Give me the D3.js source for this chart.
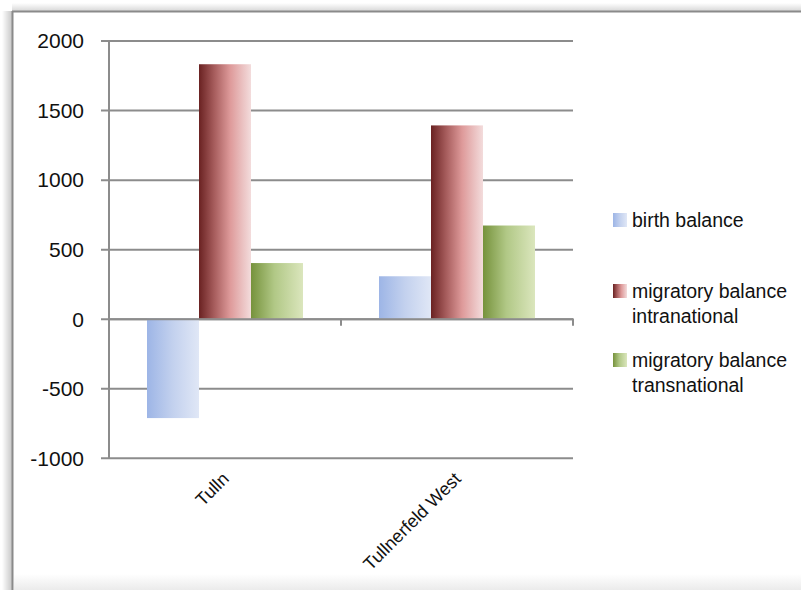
<!DOCTYPE html>
<html>
<head>
<meta charset="utf-8">
<script src="https://cdn.jsdelivr.net/npm/d3@7/dist/d3.min.js"></script>
<style>
  html, body { margin: 0; padding: 0; background: #fff; }
  svg { display: block; font-family: "Liberation Sans", Arial, sans-serif; }
</style>
</head>
<body>
<svg id="chart" width="801" height="590"></svg>
<script>
// Population balance by municipality
const categories = ["Tulln", "Tullnerfeld West"];
const seriesNames = ["birth balance", "migratory balance intranational", "migratory balance transnational"];
const legendLines = [["birth balance"], ["migratory balance", "intranational"], ["migratory balance", "transnational"]];
const birthBalance = [-715, 305];
const migratoryIntranational = [1830, 1390];
const migratoryTransnational = [400, 670];
const yTicks = [-1000, -500, 0, 500, 1000, 1500, 2000];

const seriesValues = [birthBalance, migratoryIntranational, migratoryTransnational];
const data = categories.map((c, i) => ({
  category: c,
  values: seriesNames.map((s, k) => ({ series: s, k, value: seriesValues[k][i] }))
}));

// gradient stops per series: [offset, color]
const gradStops = [
  [[0, "#9db5e6"], [0.5, "#c3d1ee"], [1, "#e0e7f6"]],
  [[0, "#6a2222"], [0.3, "#a85e5e"], [0.6, "#de9a9a"], [1, "#f3dcdc"]],
  [[0, "#76923c"], [0.45, "#b1c886"], [1, "#dbe6bd"]]
];

const svg = d3.select("#chart");
const defs = svg.append("defs");

gradStops.forEach((stops, k) => {
  const g = defs.append("linearGradient").attr("id", "grad" + k)
    .attr("x1", "0%").attr("x2", "100%").attr("y1", "0%").attr("y2", "0%");
  stops.forEach(([o, c]) => g.append("stop").attr("offset", o).attr("stop-color", c));
});

// frame shadow and bottom bevel
const sh = defs.append("linearGradient").attr("id", "leftShadow")
  .attr("x1", "0%").attr("x2", "100%");
sh.append("stop").attr("offset", 0).attr("stop-color", "#fff");
sh.append("stop").attr("offset", 1).attr("stop-color", "#c8c8c8");
const sht = defs.append("linearGradient").attr("id", "topShadow")
  .attr("x1", "0%").attr("x2", "0%").attr("y1", "0%").attr("y2", "100%");
sht.append("stop").attr("offset", 0).attr("stop-color", "#fff");
sht.append("stop").attr("offset", 1).attr("stop-color", "#d8d8d8");
const bb = defs.append("linearGradient").attr("id", "bottomBevel")
  .attr("x1", "0%").attr("x2", "0%").attr("y1", "0%").attr("y2", "100%");
bb.append("stop").attr("offset", 0).attr("stop-color", "#ffffff");
bb.append("stop").attr("offset", 1).attr("stop-color", "#ebebeb");

svg.append("rect").attr("x", 2).attr("y", 11).attr("width", 10).attr("height", 579).attr("fill", "url(#leftShadow)");
svg.append("rect").attr("x", 12).attr("y", 3).attr("width", 789).attr("height", 8).attr("fill", "url(#topShadow)");
svg.append("rect").attr("x", 13).attr("y", 12).attr("width", 788).attr("height", 578).attr("fill", "#fff");
svg.append("rect").attr("x", 14).attr("y", 574).attr("width", 787).attr("height", 16).attr("fill", "url(#bottomBevel)");
svg.append("line").attr("x1", 12.5).attr("x2", 12.5).attr("y1", 11).attr("y2", 590)
  .attr("stroke", "#8a8a8a").attr("stroke-width", 2);
svg.append("line").attr("x1", 12).attr("x2", 801).attr("y1", 11.5).attr("y2", 11.5)
  .attr("stroke", "#8a8a8a").attr("stroke-width", 2);

// scales
const plotLeft = 109, plotRight = 573;
const y = d3.scaleLinear().domain([-1000, 2000]).range([457.7, 40.6]);
const x0 = d3.scaleBand().domain(categories).range([plotLeft, plotRight]).padding(0);
const x1 = d3.scaleBand().domain(seriesNames).range([38, x0.bandwidth() - 38]).padding(0);

const gridColor = "#8c8c8c";

// horizontal gridlines with left ticks
const yAxis = d3.axisLeft(y).tickValues(yTicks).tickSize(-(plotRight - plotLeft)).tickFormat(d => String(d));
const gy = svg.append("g").attr("transform", `translate(${plotLeft},0)`).call(yAxis);
gy.select(".domain").remove();
gy.selectAll(".tick line").attr("stroke", gridColor).attr("stroke-width", 2).attr("x1", -8);
gy.selectAll(".tick text")
  .attr("fill", "#111").style("font-size", "21px").style("font-family", "'Liberation Sans', Arial, sans-serif")
  .attr("x", -25).attr("dy", "0.35em");

// vertical value axis line
svg.append("line").attr("x1", plotLeft).attr("x2", plotLeft).attr("y1", y(2000)).attr("y2", y(-1000) + 1)
  .attr("stroke", gridColor).attr("stroke-width", 2);

// bars
const groups = svg.append("g").selectAll("g").data(data).join("g")
  .attr("transform", d => `translate(${x0(d.category)},0)`);
groups.selectAll("rect").data(d => d.values).join("rect")
  .attr("x", d => x1(d.series))
  .attr("width", x1.bandwidth())
  .attr("y", d => y(Math.max(0, d.value)))
  .attr("height", d => Math.abs(y(d.value) - y(0)))
  .attr("fill", d => `url(#grad${d.k})`);

// category axis along zero
const xAxis = d3.axisBottom(x0).tickSize(0).tickFormat("");
const gx = svg.append("g").attr("transform", `translate(0,${y(0)})`).call(xAxis);
gx.select(".domain").attr("stroke", gridColor).attr("stroke-width", 2);
const boundaries = [plotLeft + x0.bandwidth(), plotRight];
svg.append("g").selectAll("line").data(boundaries).join("line")
  .attr("x1", d => d).attr("x2", d => d)
  .attr("y1", y(0)).attr("y2", y(0) + 7)
  .attr("stroke", gridColor).attr("stroke-width", 2);

// rotated category labels
svg.append("g").selectAll("text").data(categories).join("text")
  .attr("transform", d => `translate(${x0(d) + x0.bandwidth() / 2 + 5},${480}) rotate(-45)`)
  .attr("text-anchor", "end")
  .style("font-size", "18px")
  .attr("fill", "#111")
  .text(d => d);

// legend
const legendY = [227, 298, 367];
const lg = svg.append("g").selectAll("g").data(seriesNames).join("g")
  .attr("transform", (d, i) => `translate(613,${legendY[i]})`);
lg.append("rect").attr("x", 0).attr("y", -14).attr("width", 14).attr("height", 14)
  .attr("fill", (d, i) => `url(#grad${i})`);
lg.append("text").attr("x", 19).attr("y", 0)
  .style("font-size", "19.5px").attr("fill", "#111")
  .selectAll("tspan").data((d, i) => legendLines[i]).join("tspan")
  .attr("x", 19).attr("dy", (d, j) => j === 0 ? 0 : 25)
  .text(d => d);
</script>
</body>
</html>
